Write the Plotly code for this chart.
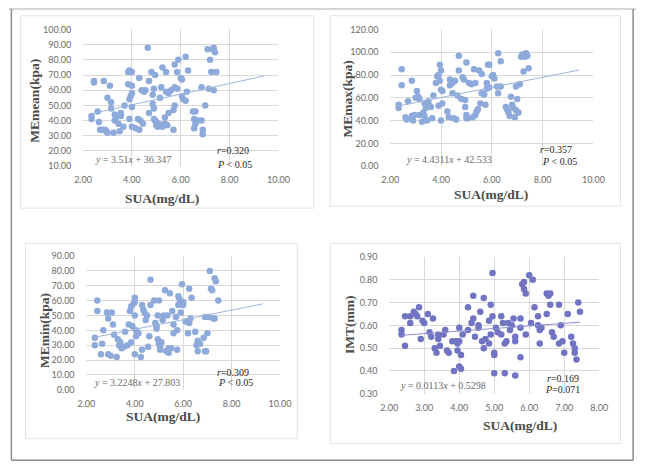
import plotly.graph_objects as go

W, H = 648, 471

# ---------------- data ----------------
p1 = [(2.35, 43), (2.35, 41), (2.45, 65), (2.45, 66), (2.6, 46), (2.65, 39), (2.7, 34), (2.8, 34), (2.85, 66), (2.9, 34),
      (2.95, 33), (3.0, 55), (3.0, 32), (3.1, 63), (3.15, 52), (3.15, 48), (3.25, 32), (3.3, 44), (3.3, 40), (3.35, 42),
      (3.45, 38), (3.5, 33), (3.55, 45), (3.55, 43), (3.65, 36), (3.7, 50), (3.85, 64), (3.85, 72), (3.9, 73), (3.9, 54),
      (3.9, 41), (3.95, 56), (4.0, 72), (4.0, 63), (4.0, 58), (4.0, 49), (4.0, 36), (4.15, 35), (4.25, 41), (4.3, 34),
      (4.3, 68), (4.35, 40), (4.4, 60), (4.45, 38), (4.5, 59), (4.55, 60), (4.65, 88), (4.7, 45), (4.7, 66), (4.8, 72),
      (4.85, 57), (4.85, 51), (4.9, 61), (4.9, 41), (4.9, 48), (4.95, 70), (4.95, 40), (5.0, 37), (5.0, 39), (5.05, 36),
      (5.1, 38), (5.15, 55), (5.2, 62), (5.25, 75), (5.25, 36), (5.35, 38), (5.35, 42), (5.4, 72), (5.4, 59), (5.45, 37),
      (5.5, 58), (5.5, 45), (5.6, 60), (5.7, 34), (5.75, 77), (5.75, 62), (5.75, 50), (5.7, 47), (5.85, 72), (5.85, 61),
      (5.9, 80), (6.0, 68), (6.05, 67), (6.05, 56), (6.1, 54), (6.2, 82), (6.2, 53), (6.3, 73), (6.25, 59), (6.5, 46),
      (6.55, 41), (6.55, 35), (6.6, 46), (6.6, 38), (6.7, 40), (6.85, 40), (6.9, 31), (6.9, 34), (6.85, 62), (7.0, 50),
      (7.1, 87), (7.15, 61), (7.2, 80), (7.25, 72), (7.3, 87), (7.35, 88), (7.4, 85), (7.35, 60), (7.45, 72)]
sua_1 = [a for a, b in p1]
me_mean = [b for a, b in p1]

p2 = [(2.33, 54), (2.33, 51), (2.45, 85), (2.45, 71), (2.6, 43), (2.65, 41), (2.7, 57), (2.85, 75), (2.85, 44), (2.9, 40),
      (2.95, 45), (3.0, 60), (3.05, 66), (3.1, 61), (3.15, 59), (3.15, 45), (3.25, 39), (3.3, 47), (3.35, 44), (3.35, 55),
      (3.4, 51), (3.45, 40), (3.5, 57), (3.55, 53), (3.6, 52), (3.65, 42), (3.7, 62), (3.8, 73), (3.85, 79), (3.9, 80),
      (3.9, 53), (3.95, 89), (3.95, 75), (4.0, 84), (4.0, 67), (4.0, 40), (4.05, 55), (4.05, 66), (4.25, 48), (4.3, 43),
      (4.35, 76), (4.35, 71), (4.45, 73), (4.45, 64), (4.5, 42), (4.55, 75), (4.6, 41), (4.65, 62), (4.7, 97), (4.7, 84),
      (4.8, 59), (4.85, 78), (4.9, 76), (4.95, 58), (4.95, 52), (5.0, 91), (5.0, 45), (5.0, 42), (5.05, 42), (5.1, 73),
      (5.2, 72), (5.25, 43), (5.3, 85), (5.35, 73), (5.35, 45), (5.4, 48), (5.45, 50), (5.5, 84), (5.55, 55), (5.6, 81),
      (5.6, 64), (5.7, 63), (5.75, 54), (5.8, 73), (5.8, 68), (5.85, 89), (5.9, 89), (5.9, 69), (6.0, 79), (6.05, 80),
      (6.1, 77), (6.2, 70), (6.25, 99), (6.25, 64), (6.35, 92), (6.35, 70), (6.55, 52), (6.6, 50), (6.65, 47), (6.7, 44),
      (6.75, 61), (6.8, 54), (6.85, 51), (6.9, 43), (6.95, 49), (6.95, 70), (7.0, 59), (7.05, 47), (7.1, 72), (7.15, 96),
      (7.2, 98), (7.25, 83), (7.3, 96), (7.35, 99), (7.4, 97), (7.45, 86)]
sua_2 = [a for a, b in p2]
me_max = [b for a, b in p2]

p3 = [(2.35, 35), (2.35, 30), (2.45, 60), (2.45, 53), (2.6, 24), (2.65, 31), (2.7, 40), (2.85, 52), (2.9, 48), (2.9, 24),
      (3.0, 23), (3.05, 52), (3.1, 44), (3.15, 37), (3.25, 22), (3.3, 34), (3.35, 30), (3.4, 32), (3.45, 28), (3.55, 29),
      (3.6, 39), (3.7, 30), (3.75, 44), (3.8, 53), (3.85, 56), (3.85, 32), (3.9, 43), (3.95, 58), (4.0, 62), (4.0, 59),
      (4.0, 50), (4.0, 24), (4.05, 40), (4.05, 36), (4.15, 38), (4.25, 22), (4.3, 57), (4.3, 27), (4.35, 54), (4.4, 52),
      (4.45, 47), (4.5, 50), (4.55, 29), (4.6, 36), (4.65, 74), (4.65, 57), (4.8, 60), (4.85, 45), (4.9, 43), (4.9, 41),
      (4.95, 50), (4.95, 34), (5.0, 60), (5.0, 31), (5.05, 29), (5.05, 27), (5.1, 32), (5.15, 47), (5.2, 50), (5.25, 67),
      (5.3, 26), (5.35, 50), (5.4, 28), (5.4, 25), (5.45, 65), (5.5, 28), (5.55, 53), (5.6, 44), (5.6, 38), (5.7, 49),
      (5.75, 27), (5.75, 40), (5.8, 63), (5.8, 57), (5.85, 61), (5.9, 52), (5.95, 71), (6.0, 59), (6.0, 57), (6.1, 46),
      (6.2, 38), (6.25, 45), (6.25, 68), (6.3, 48), (6.35, 62), (6.5, 39), (6.55, 30), (6.6, 26), (6.6, 33), (6.7, 31),
      (6.85, 35), (6.9, 26), (6.95, 26), (6.9, 49), (7.0, 38), (7.05, 49), (7.1, 80), (7.15, 68), (7.2, 67), (7.25, 48),
      (7.3, 75), (7.35, 73), (7.3, 48), (7.45, 60)]
sua_3 = [a for a, b in p3]
me_min = [b for a, b in p3]

p4 = [(2.35, 0.58), (2.35, 0.56), (2.45, 0.64), (2.45, 0.51), (2.6, 0.61), (2.6, 0.64), (2.7, 0.66), (2.75, 0.65),
      (2.8, 0.64), (2.85, 0.68), (2.9, 0.54), (2.95, 0.62), (3.0, 0.61), (3.1, 0.65), (3.15, 0.57), (3.2, 0.55),
      (3.25, 0.63), (3.3, 0.50), (3.35, 0.48), (3.4, 0.56), (3.4, 0.54), (3.45, 0.51), (3.55, 0.56), (3.6, 0.58),
      (3.65, 0.49), (3.7, 0.48), (3.8, 0.53), (3.85, 0.40), (3.9, 0.53), (3.95, 0.49), (3.95, 0.52), (4.0, 0.59),
      (4.0, 0.53), (4.0, 0.42), (4.05, 0.47), (4.05, 0.41), (4.1, 0.56), (4.25, 0.58), (4.25, 0.68), (4.35, 0.61),
      (4.4, 0.73), (4.4, 0.63), (4.45, 0.55), (4.55, 0.60), (4.55, 0.59), (4.6, 0.66), (4.65, 0.53), (4.7, 0.72),
      (4.7, 0.50), (4.75, 0.54), (4.85, 0.62), (4.85, 0.52), (4.9, 0.69), (4.9, 0.56), (4.95, 0.83), (4.95, 0.64),
      (5.0, 0.48), (5.0, 0.47), (5.0, 0.39), (5.05, 0.59), (5.1, 0.57), (5.2, 0.64), (5.2, 0.56), (5.25, 0.61),
      (5.3, 0.52), (5.3, 0.39), (5.35, 0.53), (5.4, 0.61), (5.45, 0.58), (5.5, 0.60), (5.55, 0.63), (5.6, 0.55),
      (5.6, 0.53), (5.6, 0.38), (5.75, 0.63), (5.75, 0.59), (5.75, 0.46), (5.8, 0.78), (5.85, 0.76), (5.85, 0.79),
      (5.9, 0.74), (5.9, 0.56), (6.0, 0.82), (6.05, 0.61), (6.1, 0.80), (6.15, 0.68), (6.25, 0.64), (6.25, 0.60),
      (6.3, 0.58), (6.3, 0.52), (6.35, 0.59), (6.5, 0.74), (6.5, 0.65), (6.55, 0.73), (6.6, 0.74), (6.6, 0.69),
      (6.65, 0.57), (6.7, 0.55), (6.85, 0.52), (6.85, 0.69), (6.9, 0.60), (6.95, 0.53), (7.0, 0.48), (7.1, 0.65),
      (7.2, 0.55), (7.25, 0.52), (7.3, 0.50), (7.3, 0.48), (7.35, 0.45), (7.4, 0.70), (7.45, 0.66)]
sua_4 = [a for a, b in p4]
imt = [b for a, b in p4]

# regression coefficients (as printed) and fitted-line x extents
slopes = [3.51, 4.4311, 3.2248, 0.0113]
intercepts = [36.347, 42.533, 27.803, 0.5298]
trend_x = [[2.35, 9.4], [2.33, 9.45], [2.35, 9.3], [2.33, 7.45]]
eq_labels = ["<i>y</i> = 3.51<i>x</i> + 36.347", "<i>y</i> = 4.4311<i>x</i> + 42.533",
             "<i>y</i> = 3.2248<i>x</i> + 27.803", "<i>y</i> = 0.0113<i>x</i> + 0.5298"]
stat_r = ["<i>r</i>=0.320", "<i>r</i>=0.357", "<i>r</i>=0.309", "<i>r</i>=0.169"]
stat_p = ["<i>P</i> &lt; 0.05", "<i>P</i> &lt; 0.05", "<i>P</i> &lt; 0.05", "<i>P</i>=0.071"]
y_titles = ["MEmean(kpa)", "MEmax(kpa)", "MEmin(kpa)", "IMT(mm)"]
x_title = "SUA(mg/dL)"
x_ranges = [[2, 10], [2, 10], [2, 10], [2, 8]]
x_dticks = [2, 2, 2, 1]
y_ranges = [[10, 100], [0, 120], [0, 90], [0.3, 0.9]]
y_dticks = [10, 20, 10, 0.1]

# ---------------- layout geometry (pixels) ----------------
plot_px = [  # x0, x1, ytop, ybottom
    (76.5, 278.5, 24, 164),
    (394, 604, 24, 164),
    (80, 280, 256, 393),
    (393, 610, 257, 397),
]
panel_box = [(12, 10, 315, 207), (332, 10, 632, 205), (17, 243, 298, 443), (332, 243, 632, 448)]
eq_pos = [(87, 157), (408, 157), (86, 386), (402, 389)]
r_pos = [(213, 148), (547, 147), (213, 375), (554, 381)]
p_pos = [(213, 162), (549, 159), (214, 386), (552, 393)]
ytitle_pos = [(27, 97), (350, 95), (36, 332), (352, 327)]
xtitle_pos = [(158, 197), (498, 193), (159, 420), (528, 430)]

marker_colors = ["#8eaadb", "#8eaadb", "#8eaadb", "#7074c2"]
line_colors = ["#9db4e0", "#9db4e0", "#9db4e0", "#8a90d0"]

def px(x):
    return x / W

def py(y):
    return 1 - y / H

fig = go.Figure()
xs = [sua_1, sua_2, sua_3, sua_4]
ys = [me_mean, me_max, me_min, imt]

layout = dict(
    width=W, height=H, margin=dict(l=0, r=0, t=0, b=0),
    paper_bgcolor="white", plot_bgcolor="white", showlegend=False,
)
annotations = []
shapes = []

tick_font = dict(family="Lato, 'Liberation Sans', sans-serif", size=9, color="#6b6b6b")
serif = "'Liberation Serif', 'Times New Roman', serif"

for i in range(4):
    ax = "" if i == 0 else str(i + 1)
    x0, x1, yt, yb = plot_px[i]
    fig.add_trace(go.Scatter(
        x=xs[i], y=ys[i], mode="markers", xaxis="x" + ax, yaxis="y" + ax,
        marker=dict(size=6.5, color=marker_colors[i], line=dict(width=0)),
        hoverinfo="skip"))
    tx = trend_x[i]
    ty = [slopes[i] * v + intercepts[i] for v in tx]
    fig.add_trace(go.Scatter(
        x=tx, y=ty, mode="lines", xaxis="x" + ax, yaxis="y" + ax,
        line=dict(width=1, color=line_colors[i]), hoverinfo="skip"))
    layout["xaxis" + ax] = dict(
        domain=[px(x0), px(x1)], range=x_ranges[i], dtick=x_dticks[i], tick0=0,
        tickformat=".2f", showgrid=True, gridcolor="#d9d9d9", gridwidth=1,
        zeroline=False, showline=False, ticks="outside", ticklen=5,
        tickcolor="rgba(0,0,0,0)", tickfont=tick_font, anchor="y" + ax, fixedrange=True)
    layout["yaxis" + ax] = dict(
        domain=[py(yb), py(yt)], range=y_ranges[i], dtick=y_dticks[i], tick0=0,
        tickformat=".2f", showgrid=True, gridcolor="#d9d9d9", gridwidth=1,
        zeroline=False, showline=False, ticks="outside", ticklen=9,
        tickcolor="rgba(0,0,0,0)", tickfont=tick_font, anchor="x" + ax, fixedrange=True)

    bx0, by0, bx1, by1 = panel_box[i]
    shapes.append(dict(type="rect", xref="paper", yref="paper", x0=px(bx0), x1=px(bx1),
                       y0=py(by1), y1=py(by0), line=dict(color="#e3e3e3", width=1),
                       fillcolor="rgba(0,0,0,0)", layer="below"))

    annotations.append(dict(x=px(eq_pos[i][0]), y=py(eq_pos[i][1]), xref="paper", yref="paper",
                            text=eq_labels[i], showarrow=False, xanchor="left", yanchor="middle",
                            font=dict(family=serif, size=10, color="#6b6b6b")))
    annotations.append(dict(x=px(r_pos[i][0]), y=py(r_pos[i][1]), xref="paper", yref="paper",
                            text=stat_r[i], showarrow=False, xanchor="left", yanchor="middle",
                            font=dict(family=serif, size=10, color="#262626")))
    annotations.append(dict(x=px(p_pos[i][0]), y=py(p_pos[i][1]), xref="paper", yref="paper",
                            text=stat_p[i], showarrow=False, xanchor="left", yanchor="middle",
                            font=dict(family=serif, size=10, color="#262626")))
    annotations.append(dict(x=px(ytitle_pos[i][0]), y=py(ytitle_pos[i][1]), xref="paper", yref="paper",
                            text="<b>" + y_titles[i] + "</b>", showarrow=False, textangle=-90,
                            xanchor="center", yanchor="middle",
                            font=dict(family=serif, size=13.5, color="#4a4a4a")))
    annotations.append(dict(x=px(xtitle_pos[i][0]), y=py(xtitle_pos[i][1]), xref="paper", yref="paper",
                            text="<b>" + x_title + "</b>", showarrow=False,
                            xanchor="center", yanchor="middle",
                            font=dict(family=serif, size=13.5, color="#4a4a4a")))

# outer frame
shapes.append(dict(type="line", xref="paper", yref="paper", x0=0, x1=1, y0=py(3), y1=py(3),
                   line=dict(color="#c8c8c8", width=1.5)))
shapes.append(dict(type="line", xref="paper", yref="paper", x0=px(2.5), x1=px(2.5), y0=py(3), y1=py(465),
                   line=dict(color="#8c8c8c", width=1.5)))
shapes.append(dict(type="line", xref="paper", yref="paper", x0=px(645), x1=px(645), y0=py(3), y1=py(465),
                   line=dict(color="#8c8c8c", width=1.5)))
shapes.append(dict(type="line", xref="paper", yref="paper", x0=px(2.5), x1=px(645), y0=py(465), y1=py(465),
                   line=dict(color="#8c8c8c", width=1.5)))

layout["annotations"] = annotations
layout["shapes"] = shapes
fig.update_layout(**layout)
fig.write_html("out.html")
